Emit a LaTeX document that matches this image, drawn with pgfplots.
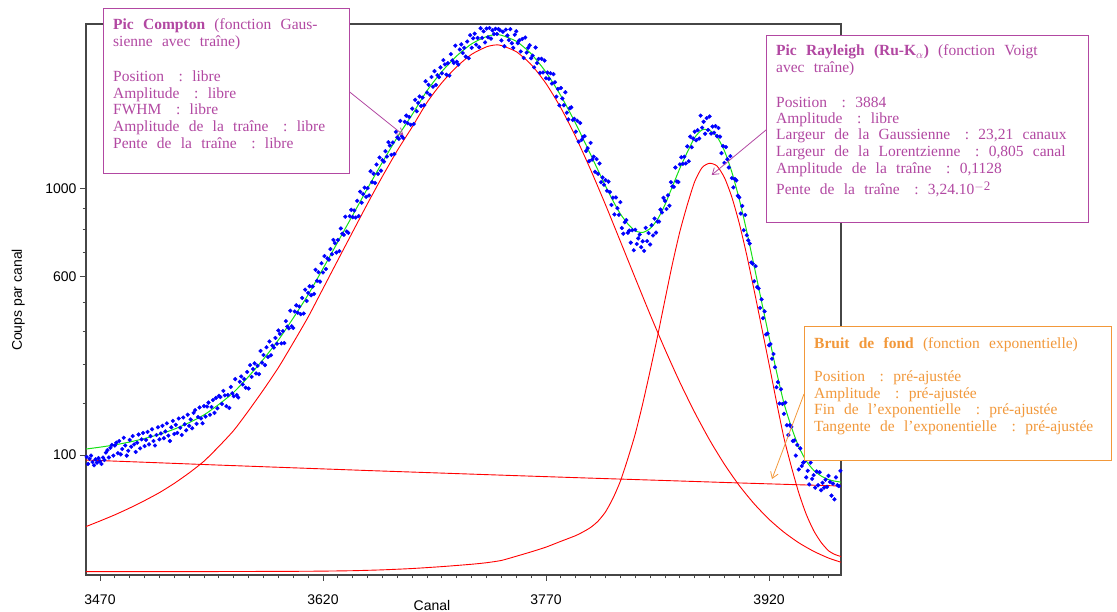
\documentclass[border=0pt]{standalone}
\usepackage{fontspec}
\setmainfont{Liberation Serif}
\setsansfont{Liberation Sans}
\usepackage{pgfplots}
\pgfplotsset{compat=1.18}
\usetikzlibrary{arrows.meta}
\definecolor{cpurple}{RGB}{178,72,162}
\definecolor{corange}{RGB}{242,152,58}
\definecolor{cgreen}{RGB}{20,225,20}
\definecolor{caxis}{RGB}{70,70,70}
\newcommand{\sep}{\hspace{0.95em}:\hspace{0.6em}}
\newcommand{\boxfont}{\fontsize{15.5}{17}\selectfont\spaceskip=0.6em plus 0.1em minus 0.05em\relax}
\newcommand{\labfont}{\sffamily\fontsize{14}{16}\selectfont}
\begin{document}
\begin{tikzpicture}[x=1pt,y=1pt]
\begin{axis}[
  scale only axis, width=755pt, height=551pt,
  xmin=3460.6, xmax=3968.4,
  ymin=0.072, ymax=2021,
  y coord trafo/.code={\pgfmathparse{sqrt(#1)}},
  y coord inv trafo/.code={\pgfmathparse{(#1)^2}},
  xtick={3470,3620,3770,3920}, xticklabels={3470,3620,3770,3920},
  minor xtick={3470,3480,...,3960},
  ytick={100,600,1000}, yticklabels={100,600,1000},
  minor ytick={200,300,400,500,700,800,900},
  tick align=outside, tick pos=left,
  major tick length=6pt, minor tick length=3.3pt,
  every tick/.style={caxis, line width=0.9pt},
  axis line style={caxis, line width=1.3pt},
  ticklabel style={font=\labfont, text=black},
  xticklabel style={yshift=-10pt},
  /pgf/number format/assume math mode=true,
  clip=true,
]
% background (exponential)
\addplot[red, line width=0.9pt] coordinates {
(3460.6,92.0) (3500,88.6) (3550,84.3) (3600,80.3) (3650,76.4) (3700,72.8)
(3750,69.3) (3800,66.0) (3850,62.9) (3900,59.8) (3950,57.0) (3968.4,56.0)};
% Compton
\addplot[red, line width=0.9pt, smooth, tension=0.4] coordinates {
(3460.6,17.6) (3470,21.6) (3480,26.5) (3490,32.5) (3500,39.7) (3510,48.3)
(3520,59.3) (3530,73.1) (3540,90.3) (3550,114.5) (3560,144) (3570,185)
(3580,234) (3590,292) (3600,365) (3610,449) (3620,552) (3630,666)
(3640,790) (3650,924) (3660,1063) (3670,1204) (3680,1340) (3690,1490)
(3700,1616) (3710,1722) (3720,1806) (3730,1858) (3736,1871) (3740,1867)
(3750,1824) (3760,1736) (3770,1610) (3780,1455) (3790,1281) (3800,1098)
(3810,918) (3820,747) (3830,593) (3840,458) (3850,345) (3860,253)
(3870,181) (3880,126) (3890,85.5) (3900,56.5) (3910,36.5) (3920,22.9)
(3930,14.0) (3940,8.3) (3950,4.8) (3960,2.7) (3968.4,1.7)};
% Rayleigh
\addplot[red, line width=0.9pt, smooth, tension=0.4] coordinates {
(3460.6,0.29) (3500,0.29) (3550,0.30) (3600,0.32) (3620,0.34) (3640,0.38)
(3660,0.47) (3680,0.63) (3700,0.9) (3720,1.3) (3730,1.6) (3740,2.1)
(3750,3.2) (3760,4.6) (3770,6.4) (3780,9.0) (3790,12) (3795,14.2) (3800,17)
(3805,21.5) (3810,29) (3815,42) (3820,62) (3825,94) (3830,137) (3835,200) (3840,283)
(3845,385) (3850,510) (3855,650) (3860,790) (3865,917) (3870,1035)
(3875,1110) (3880,1133) (3885,1118) (3890,1056) (3895,955) (3900,828)
(3905,687) (3910,545) (3915,415) (3920,302) (3925,205) (3930,130)
(3935,82) (3940,48) (3945,27) (3950,15) (3955,8.5) (3960,5.0)
(3964,3.8) (3968.4,3.1)};
% total fit
\addplot[cgreen, line width=1pt, smooth, tension=0.4] coordinates {
(3460.6,109.9) (3470,113.1) (3480,117.1) (3490,122.2) (3500,128.6) (3510,136.3)
(3520,146.4) (3530,159.4) (3540,175.7) (3550,199.1) (3560,227.8) (3570,268.0)
(3580,316.2) (3590,373.4) (3600,445.6) (3610,528.8) (3620,631.0) (3630,744.4)
(3640,867.6) (3650,1000.8) (3660,1139.2) (3670,1279.4) (3680,1414.8) (3690,1564.3)
(3700,1689.8) (3710,1795.3) (3720,1879.0) (3730,1930.7) (3736,1943.8) (3740,1939.7)
(3750,1896.9) (3760,1809.5) (3770,1684.6) (3780,1531.3) (3790,1359.6) (3800,1181)
(3810,1012.4) (3815,938.1) (3820,873.7) (3825,826.4) (3830,794.1) (3835,786.8)
(3840,804.5) (3845,847.2) (3850,917.9) (3855,1009.6) (3860,1105.2) (3865,1193.9)
(3870,1277.6) (3875,1322.9) (3880,1320) (3885,1282.9) (3890,1201.9) (3895,1085)
(3900,944.3) (3905,792) (3910,640.8) (3915,503) (3920,383.6) (3925,281.4)
(3930,202.1) (3935,150.6) (3940,113.8) (3945,90.6) (3950,76.8) (3955,68.9)
(3960,64.1) (3964,62.2) (3968.4,60.8)};
% measured spectrum
\addplot[only marks, mark=*, mark size=1.9pt, mark options={fill=blue, draw=blue}] coordinates {
(3461,97)(3462,86)(3463,94)(3464,99)(3465,89)(3466,84)(3467,93)(3468,88)(3469,95)(3470,90)
(3471,86)(3472,96)(3473,92)(3474,104)(3475,108)(3476,96)(3477,112)(3478,117)(3479,99)(3480,116)
(3481,121)(3482,103)(3483,124)(3484,101)(3485,110)(3486,130)(3487,116)(3488,99)(3489,107)(3490,126)
(3491,114)(3492,133)(3493,118)(3494,105)(3495,121)(3496,136)(3497,111)(3498,127)(3499,139)(3500,115)
(3501,126)(3502,141)(3503,118)(3504,133)(3505,146)(3506,124)(3507,116)(3508,135)(3509,150)(3510,127)
(3511,138)(3512,153)(3513,129)(3514,142)(3515,158)(3516,134)(3517,124)(3518,150)(3519,163)(3520,137)
(3521,155)(3522,139)(3523,168)(3524,149)(3525,135)(3526,170)(3527,156)(3528,144)(3529,176)(3530,153)
(3531,166)(3532,148)(3533,180)(3534,186)(3535,157)(3536,171)(3537,192)(3538,168)(3539,158)(3540,195)
(3541,172)(3542,194)(3543,203)(3544,176)(3545,193)(3546,209)(3547,180)(3548,214)(3549,190)(3550,219)
(3551,216)(3552,200)(3553,231)(3554,220)(3555,195)(3556,221)(3557,191)(3558,241)(3559,225)(3560,218)
(3561,261)(3562,221)(3563,215)(3564,254)(3565,268)(3566,247)(3567,261)(3568,239)(3569,280)(3570,237)
(3571,299)(3572,267)(3573,288)(3574,304)(3575,276)(3576,297)(3577,274)(3578,340)(3579,306)(3580,328)
(3581,299)(3582,351)(3583,322)(3584,369)(3585,327)(3586,356)(3587,350)(3588,380)(3589,362)(3590,404)
(3591,393)(3592,363)(3593,402)(3594,364)(3595,435)(3596,417)(3597,411)(3598,471)(3599,418)(3600,412)
(3601,468)(3602,490)(3603,464)(3604,486)(3605,459)(3606,517)(3607,461)(3608,548)(3609,506)(3610,536)
(3611,561)(3612,527)(3613,560)(3614,532)(3615,626)(3616,582)(3617,616)(3618,579)(3619,653)(3620,615)
(3621,683)(3622,629)(3623,673)(3624,668)(3625,713)(3626,691)(3627,753)(3628,739)(3629,698)(3630,753)
(3631,704)(3632,805)(3633,781)(3634,776)(3635,860)(3636,791)(3637,785)(3638,862)(3639,893)(3640,858)
(3641,890)(3642,856)(3643,937)(3644,863)(3645,983)(3646,928)(3647,971)(3648,1004)(3649,957)(3650,1001)
(3651,964)(3652,1090)(3653,1032)(3654,1077)(3655,1028)(3656,1126)(3657,1076)(3658,1165)(3659,1093)(3660,1150)
(3661,1142)(3662,1200)(3663,1170)(3664,1251)(3665,1232)(3666,1179)(3667,1249)(3668,1184)(3669,1311)(3670,1279)
(3671,1270)(3672,1376)(3673,1285)(3674,1275)(3675,1371)(3676,1408)(3677,1362)(3678,1400)(3679,1353)(3680,1451)
(3681,1357)(3682,1506)(3683,1435)(3684,1487)(3685,1527)(3686,1467)(3687,1520)(3688,1472)(3689,1625)(3690,1552)
(3691,1602)(3692,1538)(3693,1653)(3694,1589)(3695,1692)(3696,1601)(3697,1665)(3698,1652)(3699,1717)(3700,1677)
(3701,1766)(3702,1737)(3703,1668)(3704,1745)(3705,1662)(3706,1807)(3707,1764)(3708,1747)(3709,1866)(3710,1755)
(3711,1736)(3712,1839)(3713,1875)(3714,1815)(3715,1851)(3716,1790)(3717,1895)(3718,1779)(3719,1940)(3720,1851)
(3721,1918)(3722,1951)(3723,1873)(3724,1920)(3725,1855)(3726,1990)(3727,1921)(3728,1968)(3729,1889)(3730,1988)
(3731,1925)(3732,1992)(3733,1916)(3734,1975)(3735,1949)(3736,1986)(3737,1949)(3738,1984)(3739,1975)(3740,1903)
(3741,1965)(3742,1862)(3743,1980)(3744,1938)(3745,1905)(3746,1983)(3747,1883)(3748,1851)(3749,1944)(3750,1968)
(3751,1884)(3752,1903)(3753,1825)(3754,1913)(3755,1781)(3756,1923)(3757,1818)(3758,1851)(3759,1869)(3760,1779)
(3761,1797)(3762,1717)(3763,1853)(3764,1746)(3765,1774)(3766,1681)(3767,1775)(3768,1683)(3769,1763)(3770,1645)
(3771,1682)(3772,1641)(3773,1678)(3774,1610)(3775,1672)(3776,1618)(3777,1526)(3778,1575)(3779,1471)(3780,1581)
(3781,1514)(3782,1472)(3783,1554)(3784,1426)(3785,1385)(3786,1453)(3787,1459)(3788,1382)(3789,1389)(3790,1312)
(3791,1377)(3792,1254)(3793,1364)(3794,1265)(3795,1282)(3796,1286)(3797,1201)(3798,1217)(3799,1144)(3800,1247)
(3801,1153)(3802,1169)(3803,1087)(3804,1156)(3805,1076)(3806,1132)(3807,1032)(3808,1057)(3809,1019)(3810,1043)
(3811,988)(3812,1035)(3813,981)(3814,917)(3815,953)(3816,871)(3817,954)(3818,901)(3819,869)(3820,931)
(3821,807)(3822,781)(3823,834)(3824,844)(3825,785)(3826,795)(3827,741)(3828,797)(3829,708)(3830,799)
(3831,735)(3832,760)(3833,777)(3834,721)(3835,747)(3836,705)(3837,808)(3838,748)(3839,784)(3840,733)
(3841,820)(3842,773)(3843,851)(3844,786)(3845,837)(3846,837)(3847,894)(3848,880)(3849,952)(3850,937)
(3851,897)(3852,965)(3853,913)(3854,1032)(3855,1010)(3856,1008)(3857,1110)(3858,1036)(3859,1033)(3860,1127)
(3861,1166)(3862,1130)(3863,1169)(3864,1132)(3865,1227)(3866,1144)(3867,1283)(3868,1222)(3869,1272)(3870,1312)
(3871,1262)(3872,1321)(3873,1272)(3874,1408)(3875,1336)(3876,1371)(3877,1300)(3878,1393)(3879,1322)(3880,1403)
(3881,1301)(3882,1342)(3883,1306)(3884,1345)(3885,1286)(3886,1334)(3887,1283)(3888,1189)(3889,1229)(3890,1135)
(3891,1223)(3892,1155)(3893,1110)(3894,1172)(3895,1053)(3896,1005)(3897,1049)(3898,1041)(3899,963)(3900,954)
(3901,875)(3902,912)(3903,797)(3904,868)(3905,774)(3906,751)(3907,737)(3908,656)(3909,651)(3910,580)
(3911,641)(3912,558)(3913,553)(3914,481)(3915,512)(3916,445)(3917,469)(3918,391)(3919,394)(3920,357)
(3921,361)(3922,317)(3923,331)(3924,293)(3925,240)(3926,253)(3927,201)(3928,235)(3929,200)(3930,178)
(3931,203)(3932,154)(3933,135)(3934,154)(3935,151)(3936,124)(3937,125)(3938,99)(3939,117)(3940,78)
(3941,111)(3942,83)(3943,88)(3944,90)(3945,67)(3946,76)(3947,58)(3948,88)(3949,65)(3950,70)
(3951,54)(3952,75)(3953,57)(3954,74)(3955,51)(3956,60)(3957,54)(3958,64)(3959,55)(3960,69)
(3961,61)(3962,45)(3963,59)(3964,41)(3965,67)(3966,57)(3967,56)(3968,76)};
\coordinate (O) at (rel axis cs:0,0);
\end{axis}
\pgfresetboundingbox
\begin{scope}[shift={(O)}, shift={(-86,-37)}]
\path[use as bounding box] (0,0) rectangle (1117,612);
% axis titles
\node[font=\labfont, rotate=90] at (18.3,312) {Coups par canal};
\node[font=\labfont] at (432,6.3) {Canal};
% Compton box
\draw[cpurple, line width=1pt, fill=white] (103,438) rectangle (349,603);
\begin{scope}[every node/.style={anchor=base west, inner sep=0pt, text=cpurple, font=\boxfont}]
\node at (113,582) {\textbf{Pic Compton} (fonction Gaus-};
\node at (113,565.3) {sienne avec traîne)};
\node at (113,530.3) {Position\sep libre};
\node at (113,513.7) {Amplitude\sep libre};
\node at (113,497) {FWHM\sep libre};
\node at (113,480.3) {Amplitude de la traîne\sep libre};
\node at (113,463.7) {Pente de la traîne\sep libre};
\end{scope}
\draw[cpurple, line width=0.8pt, -{Straight Barb[length=6pt,width=8pt]}] (349.3,520.3) -- (403.3,477);
% Rayleigh box
\draw[cpurple, line width=1pt, fill=white] (766,389) rectangle (1088,576.3);
\begin{scope}[every node/.style={anchor=base west, inner sep=0pt, text=cpurple, font=\boxfont}]
\node at (776,556) {\textbf{Pic Rayleigh (Ru-K$_{\alpha}$)} (fonction Voigt};
\node at (776,539.3) {avec traîne)};
\node at (776,504.7) {Position\sep 3884};
\node at (776,488.7) {Amplitude\sep libre};
\node at (776,472) {Largeur de la Gaussienne\sep 23,21 canaux};
\node at (776,455.3) {Largeur de la Lorentzienne\sep 0,805 canal};
\node at (776,438.7) {Amplitude de la traîne\sep 0,1128};
\node at (776,417) {Pente de la traîne\sep 3,24.10\raisebox{0.7ex}{\fontsize{13}{13}\selectfont$-$2}};
\end{scope}
\draw[cpurple, line width=0.8pt, -{Straight Barb[length=6pt,width=8pt]}] (766,482) -- (711.7,437);
% Bruit de fond box
\draw[corange, line width=1pt, fill=white] (804,151) rectangle (1111,285);
\begin{scope}[every node/.style={anchor=base west, inner sep=0pt, text=corange, font=\boxfont}]
\node at (814,263.7) {\textbf{Bruit de fond} (fonction exponentielle)};
\node at (814,230.3) {Position\sep pré-ajustée};
\node at (814,213.7) {Amplitude\sep pré-ajustée};
\node at (814,197) {Fin de l’exponentielle\sep pré-ajustée};
\node at (814,180.3) {Tangente de l’exponentielle\sep pré-ajustée};
\end{scope}
\draw[corange, line width=0.8pt, -{Straight Barb[length=6pt,width=8pt]}] (804,218) -- (772,133);
\end{scope}
\end{tikzpicture}
\end{document}
